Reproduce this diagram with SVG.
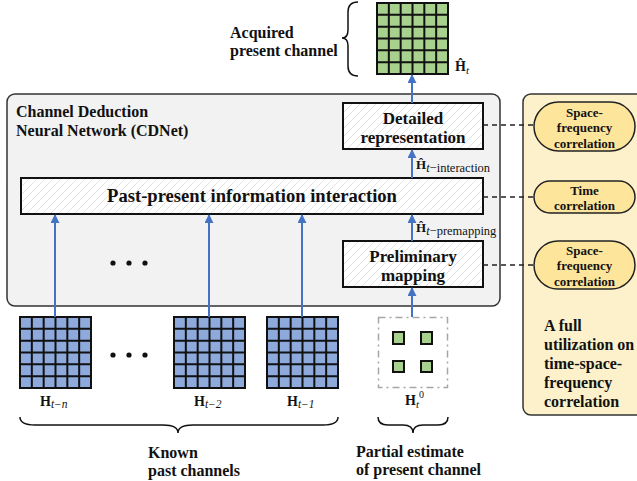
<svg xmlns="http://www.w3.org/2000/svg" xmlns:xlink="http://www.w3.org/1999/xlink" width="637" height="481" viewBox="0 0 637 481">
  <style>
    .t { font-family: "Liberation Serif", Tinos, "DejaVu Serif", serif; font-weight: bold; fill: #111; }
    .m { font-family: "Liberation Serif", Tinos, "DejaVu Serif", serif; fill: #111; }
    .box { fill: url(#hatch); stroke: #111; stroke-width: 2; }
    .pill { fill: #fee59c; stroke: #222; stroke-width: 1.5; }
    .arrow { stroke: #4472c4; stroke-width: 2; fill: none; marker-end: url(#ah); }
    .dash { stroke: #222; stroke-width: 1.5; stroke-dasharray: 5 4; fill: none; }
    .brace { stroke: #111; stroke-width: 1.5; fill: none; }
    .gridline { stroke: #111; stroke-width: 2; fill: none; }
  </style>
  <defs>
    <pattern id="hatch" patternUnits="userSpaceOnUse" width="8" height="8">
      <rect width="8" height="8" fill="#ffffff"/>
      <path d="M-2,10 L10,-2 M-2,2 L2,-2 M6,10 L10,6" stroke="#e2e2e2" stroke-width="1"/>
    </pattern>
    <marker id="ah" viewBox="0 0 10 10" refX="9" refY="5" markerWidth="4.5" markerHeight="4.5" orient="auto" markerUnits="strokeWidth">
      <path d="M0,0 L10,5 L0,10 z" fill="#4472c4"/>
    </marker>
    <path id="gl" class="gridline" d="M11.83,0 V71 M23.67,0 V71 M35.5,0 V71 M47.33,0 V71 M59.17,0 V71 M0,11.83 H71 M0,23.67 H71 M0,35.5 H71 M0,47.33 H71 M0,59.17 H71"/>
    <g id="gridBlue">
      <rect x="0" y="0" width="71" height="71" fill="#8eaadc" stroke="#111" stroke-width="2"/>
      <use xlink:href="#gl"/>
    </g>
    <g id="gridGreen">
      <rect x="0" y="0" width="71" height="71" fill="#a9d18e" stroke="#111" stroke-width="2"/>
      <use xlink:href="#gl"/>
    </g>
  </defs>

  <!-- CDNet container -->
  <g id="cdnet">
    <rect x="7" y="94" width="493" height="212" rx="8" fill="#f2f2f2" stroke="#333" stroke-width="1.5"/>
    <text class="t" x="16" y="117" font-size="16">Channel Deduction</text>
    <text class="t" x="16" y="136" font-size="16">Neural Network (CDNet)</text>
    <circle cx="113" cy="263" r="2.6" fill="#111"/>
    <circle cx="129" cy="263" r="2.6" fill="#111"/>
    <circle cx="145" cy="263" r="2.6" fill="#111"/>
  </g>

  <!-- correlation panel -->
  <g id="panel">
    <rect x="523" y="94" width="130" height="321" rx="8" fill="#fdf1cc" stroke="#333" stroke-width="1.5"/>
    <text class="t" x="544" y="331" font-size="16">A full</text>
    <text class="t" x="544" y="350" font-size="16">utilization on</text>
    <text class="t" x="544" y="369" font-size="16">time-space-</text>
    <text class="t" x="544" y="388" font-size="16">frequency</text>
    <text class="t" x="544" y="407" font-size="16">correlation</text>
  </g>

  <g id="pill-sf-top">
    <rect class="pill" x="534" y="102" width="101" height="49" rx="24.5"/>
    <text class="t" x="584.5" y="117" font-size="13" text-anchor="middle">Space-</text>
    <text class="t" x="584.5" y="132" font-size="13" text-anchor="middle">frequency</text>
    <text class="t" x="584.5" y="148" font-size="13" text-anchor="middle">correlation</text>
  </g>
  <g id="pill-time">
    <rect class="pill" x="534" y="181" width="101" height="32" rx="16"/>
    <text class="t" x="584.5" y="195" font-size="13" text-anchor="middle">Time</text>
    <text class="t" x="584.5" y="210" font-size="13" text-anchor="middle">correlation</text>
  </g>
  <g id="pill-sf-bottom">
    <rect class="pill" x="534" y="241" width="101" height="48" rx="24"/>
    <text class="t" x="584.5" y="255" font-size="13" text-anchor="middle">Space-</text>
    <text class="t" x="584.5" y="270" font-size="13" text-anchor="middle">frequency</text>
    <text class="t" x="584.5" y="286" font-size="13" text-anchor="middle">correlation</text>
  </g>

  <!-- processing blocks -->
  <g id="detailed">
    <rect class="box" x="343" y="103" width="140" height="46"/>
    <text class="t" x="413" y="124" font-size="17" text-anchor="middle">Detailed</text>
    <text class="t" x="413" y="143" font-size="17" text-anchor="middle">representation</text>
  </g>
  <g id="interaction">
    <rect class="box" x="21" y="178" width="462" height="36"/>
    <text class="t" x="252" y="202" font-size="18.6" text-anchor="middle">Past-present information interaction</text>
  </g>
  <g id="preliminary">
    <rect class="box" x="343" y="241" width="140" height="46"/>
    <text class="t" x="413" y="262" font-size="17" text-anchor="middle">Preliminary</text>
    <text class="t" x="413" y="281" font-size="17" text-anchor="middle">mapping</text>
  </g>

  <!-- channel matrices -->
  <g id="acquired">
    <use xlink:href="#gridGreen" x="377" y="3"/>
    <text class="m" x="455" y="71" font-size="14"><tspan font-weight="bold">Ĥ</tspan><tspan font-style="italic" font-size="11" dy="3">t</tspan></text>
    <text class="t" x="230" y="38" font-size="16">Acquired</text>
    <text class="t" x="230" y="56" font-size="16">present channel</text>
    <path class="brace" d="M358,2 Q348,2 348,12 L348,30 Q348,38 342,38 Q348,38 348,46 L348,66 Q348,76 358,76"/>
  </g>
  <g id="h-t-n">
    <use xlink:href="#gridBlue" x="20" y="317"/>
    <text class="m" x="40" y="406" font-size="14"><tspan font-weight="bold">H</tspan><tspan font-style="italic" font-size="11.5" dy="2">t−n</tspan></text>
  </g>
  <g id="h-t-2">
    <use xlink:href="#gridBlue" x="174" y="317"/>
    <text class="m" x="194" y="406" font-size="14"><tspan font-weight="bold">H</tspan><tspan font-style="italic" font-size="11.5" dy="2">t−2</tspan></text>
  </g>
  <g id="h-t-1">
    <use xlink:href="#gridBlue" x="267" y="317"/>
    <text class="m" x="287" y="406" font-size="14"><tspan font-weight="bold">H</tspan><tspan font-style="italic" font-size="11.5" dy="2">t−1</tspan></text>
  </g>
  <g id="dots-past">
    <circle cx="113" cy="355" r="2.6" fill="#111"/>
    <circle cx="129" cy="355" r="2.6" fill="#111"/>
    <circle cx="145" cy="355" r="2.6" fill="#111"/>
  </g>
  <g id="partial">
    <rect x="378.5" y="317.5" width="69" height="70" fill="#fff" stroke="#a6a6a6" stroke-width="1.5" stroke-dasharray="7 4 2 4"/>
    <rect x="393" y="332" width="11" height="12" fill="#a9d18e" stroke="#111" stroke-width="2"/>
    <rect x="421" y="332" width="11" height="12" fill="#a9d18e" stroke="#111" stroke-width="2"/>
    <rect x="393" y="361" width="11" height="11" fill="#a9d18e" stroke="#111" stroke-width="2"/>
    <rect x="421" y="361" width="11" height="11" fill="#a9d18e" stroke="#111" stroke-width="2"/>
    <text class="m" x="405" y="405" font-size="14"><tspan font-weight="bold">H</tspan><tspan font-style="italic" font-size="11" dy="3">t</tspan><tspan font-size="10" dy="-10">0</tspan></text>
  </g>

  <!-- braces and group captions -->
  <g id="known">
    <path class="brace" d="M20,417 Q20,425 35,425 L163,425 Q178,425 178,433 Q178,425 193,425 L323,425 Q338,425 338,417"/>
    <text class="t" x="148" y="458" font-size="16">Known</text>
    <text class="t" x="148" y="476" font-size="16">past channels</text>
  </g>
  <g id="partial-caption">
    <path class="brace" d="M378,417 Q378,425 388,425 L403,425 Q413,425 413,433 Q413,425 423,425 L438,425 Q448,425 448,417"/>
    <text class="t" x="356" y="457" font-size="16">Partial estimate</text>
    <text class="t" x="356" y="475" font-size="16">of present channel</text>
  </g>

  <!-- connectors -->
  <g id="connectors">
    <line class="arrow" x1="55" y1="317" x2="55" y2="215"/>
    <line class="arrow" x1="209" y1="317" x2="209" y2="215"/>
    <line class="arrow" x1="302" y1="317" x2="302" y2="215"/>
    <line class="arrow" x1="412" y1="317" x2="412" y2="288"/>
    <line class="arrow" x1="412" y1="241" x2="412" y2="215"/>
    <line class="arrow" x1="412" y1="178" x2="412" y2="150"/>
    <line class="arrow" x1="412" y1="103" x2="412" y2="75"/>
    <line class="dash" x1="483" y1="125" x2="534" y2="125"/>
    <line class="dash" x1="483" y1="197" x2="534" y2="197"/>
    <line class="dash" x1="483" y1="265" x2="534" y2="265"/>
    <text class="m" x="416" y="169" font-size="13"><tspan font-weight="bold">Ĥ</tspan><tspan font-size="12.5" dy="3"><tspan font-style="italic">t</tspan>−interaction</tspan></text>
    <text class="m" x="416" y="232" font-size="13"><tspan font-weight="bold">Ĥ</tspan><tspan font-size="12.5" dy="3"><tspan font-style="italic">t</tspan>−premapping</tspan></text>
  </g>
</svg>
